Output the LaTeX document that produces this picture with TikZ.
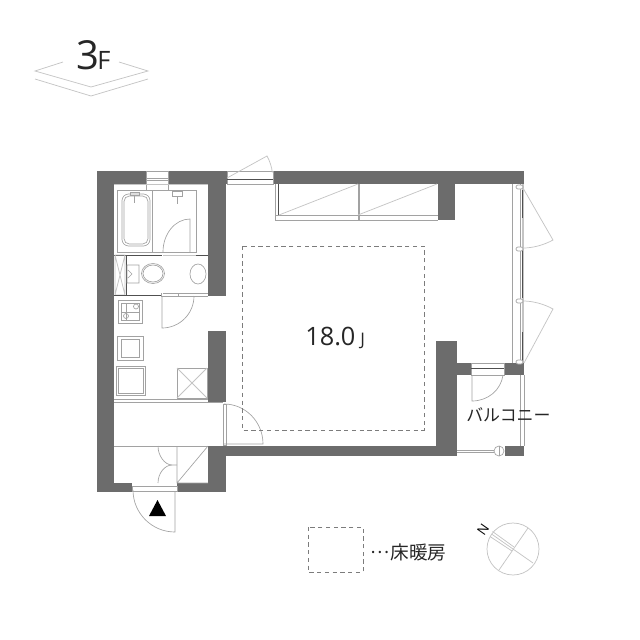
\documentclass[tikz,border=0pt]{standalone}
\usepackage{fontspec}
\setmainfont{Open Sans}
\newfontfamily\cjk{Noto Sans CJK JP}
\tikzset{
  wall/.style={fill=wallgray,draw=none},
  thin line/.style={draw=linegray,line width=0.5pt},
  pale line/.style={draw=palegray,line width=0.55pt},
  dark line/.style={draw=darkline,line width=0.55pt},
  heat/.style={draw=dashgray,line width=0.7pt,dash pattern=on 3.2pt off 2.6pt},
  label/.style={inner sep=0pt,text=black!85}
}
\definecolor{wallgray}{HTML}{6C6C6C}
\definecolor{linegray}{HTML}{A2A2A2}
\definecolor{palegray}{HTML}{C4C4C4}
\definecolor{darkline}{HTML}{505050}
\definecolor{dashgray}{HTML}{7C7C7C}
\begin{document}
\begin{tikzpicture}[x=0.75pt,y=-0.75pt]
\useasboundingbox (0,0) rectangle (640,640);
% walls
\fill[wall] (97,171) rectangle (114,492);
\fill[wall] (97,171) rectangle (146,184);
\fill[wall] (168,171) rectangle (227,184);
\fill[wall] (208,171) rectangle (226,296);
\fill[wall] (273,171) rectangle (524,184);
\fill[wall] (438,171) rectangle (455,220);
\fill[wall] (208,331) rectangle (226,402);
\fill[wall] (208,446) rectangle (226,492);
\fill[wall] (97,483) rectangle (132,492);
\fill[wall] (177,483) rectangle (226,492);
\fill[wall] (226,446) rectangle (457,456);
\fill[wall] (436,341) rectangle (457,456);
\fill[wall] (457,363) rectangle (471,375);
\fill[wall] (504,363) rectangle (524,375);
\fill[wall] (505,446) rectangle (524,456);
% bath window
\draw[thin line] (146,171) rectangle (168,190);
\draw[thin line] (146,178) -- (168,178) (146,180) -- (168,180);
% bathroom
\draw[thin line] (117,190) -- (117,252) -- (196,252) -- (196,190) -- (168,190);
\draw[thin line] (117,190) -- (146,190);
\draw[thin line] (152,190) -- (152,252);
\draw[pale line] (114,184) -- (208,184);
\draw[thin line,rounded corners=5pt] (122,194) rectangle (150,246);
\draw[thin line,rounded corners=4pt] (124,196) rectangle (148,244);
\draw[thin line] (130,192) rectangle (139,195) (134.5,195) -- (134.5,203);
\draw[thin line] (172,191) rectangle (182,196) (177,196) -- (177,204);
\draw[thin line] (190,252) -- (190,219) arc[start angle=270,end angle=180,x radius=27,y radius=33];
\draw[pale line] (163,255) -- (196,255);
\draw[dark line] (114,255) -- (162,255) (196,255) -- (208,255);
% toilet
\draw[dark line] (126,255) -- (126,295);
\draw[pale line] (115,255) rectangle (125,295) (115,255) -- (125,295) (125,255) -- (115,295);
\draw[thin line] (127,265) rectangle (139,283) (128,270) -- (132,274) -- (128,278);
\draw[thin line] (153,273.5) ellipse[x radius=11.5,y radius=10];
\draw[thin line] (153,273.5) ellipse[x radius=10,y radius=8.5];
\draw[thin line] (198,274) ellipse[x radius=8,y radius=10];
\draw[dark line] (114,295) -- (161,295);
\draw[thin line] (161,293) -- (161,296) (161,296) -- (208,296) (163,293) -- (208,293);
\draw[thin line] (162,296) -- (162,328) arc[start angle=90,end angle=0,radius=32];
\draw[thin line] (178,293) -- (178,296);
% kitchen
\draw[thin line] (118,300) rectangle (142,323) (121,303) rectangle (139,320);
\draw[thin line] (126,303) -- (126,320) (121,312) -- (139,312);
\draw[thin line] (126,316) circle[radius=2.5] (136,306.5) circle[radius=2.5];
\draw[thin line] (117,336) rectangle (143,360) (121,339) rectangle (139,357);
\draw[thin line] (116,366) rectangle (145,395) (118,368) rectangle (143,393);
\draw[thin line] (177,368) rectangle (207,398);
\draw[pale line] (177,368) -- (207,398) (207,368) -- (177,398);
% hall
\draw[thin line] (114,399) -- (208,399) (114,402) -- (223,402);
\draw[thin line] (114,446) -- (208,446);
% hall door
\draw[thin line] (223,404) rectangle (226,445);
\draw[thin line] (224,444) -- (263,444) arc[start angle=0,end angle=-90,x radius=39,y radius=40];
% entrance closet
\draw[thin line] (177,446) -- (177,483) -- (208,483) (177,483) -- (208,446);
\draw[thin line] (158,446) .. controls (158,456) and (165,465) .. (172,465) -- (177,465);
\draw[thin line] (158,483) .. controls (158,473) and (165,465) .. (172,465);
% entrance door
\draw[thin line] (132,486) rectangle (177,491);
\draw[thin line] (175,491) -- (175,532) arc[start angle=90,end angle=180,radius=42];
\fill[black] (149,516) -- (166,516) -- (157.5,500) -- cycle;
% top door
\draw[thin line] (227,171) rectangle (273,184);
\draw[dark line] (227,179) -- (273,179);
\draw[pale line] (227,178) -- (267,156) arc[start angle=-29,end angle=-7,radius=45.6];
% closet
\draw[thin line] (275,184) -- (275,220) -- (438,220) (275,215) -- (438,215);
\draw[dark line] (278.5,184) -- (278.5,215);
\draw[thin line] (358,184) -- (358,220) (359,184) -- (359,220);
\draw[pale line] (279,215) -- (358,184) (358,215) -- (437,184);
% sash
\draw[thin line] (512,184) -- (512,363) (520.5,184) -- (520.5,363);
\draw[palegray,line width=1.6pt] (523,184) -- (523,363);
\draw[dark line] (522,190) -- (522,218) (522,250) -- (522,298) (522,332) -- (522,363);
\foreach \yy in {187,249,301,362}{\draw[thin line,rounded corners=1.5pt,fill=white] (516,\yy-2) rectangle (523,\yy+2);}
\draw[pale line] (523,188) -- (553,240) .. controls (544,245) and (533,248) .. (523,248);
\draw[pale line] (523,301) .. controls (533,301) and (544,304) .. (553,309) -- (524,363);
% balcony
\draw[thin line] (471,363) rectangle (504,375);
\draw[dark line] (471,368) -- (504,368);
\draw[thin line] (472,375) -- (472,401) .. controls (488,401) and (501,390) .. (503,375);
\draw[thin line] (520,375) -- (520,446) (524,375) -- (524,446);
\draw[thin line] (457,450) -- (494,450) (457,452.5) -- (494,452.5);
\draw[thin line,fill=white] (499,451) circle[radius=5];
\draw[thin line] (499,446) -- (499,456);
% floor heating
\draw[heat] (242,246) rectangle (424,430);
\draw[heat] (308,527) rectangle (363,572);
% labels
\node[label,anchor=base west,font=\fontsize{30}{30}\selectfont] (floornum) at (76,69) {3};
\node[label,anchor=base west,font=\fontsize{19}{19}\selectfont] (floorlet) at (97,69) {F};
\draw[pale line] (63,62) -- (35,71) -- (91,87) -- (148,71) -- (119,62);
\draw[pale line] (35,79) -- (91,96) -- (148,79);
\node[label,anchor=base west,font=\fontsize{19}{19}\selectfont] (area) at (305,345) {18.0};
\node[label,anchor=base west,font=\fontsize{13}{13}\selectfont] (areaunit) at (360,345) {J};
\node[label,anchor=west,font=\cjk\fontsize{12.7}{13}\selectfont] (balc) at (466,415) {バルコニー};
\node[label,anchor=west,font=\cjk\fontsize{14}{14}\selectfont] (legend) at (370,552) {\raisebox{0.32em}{\fontsize{13.5}{14}\selectfont …}\hspace{1pt}床暖房};
% compass
\coordinate (cc) at (513,549);
\draw[pale line] (cc) circle[radius=26];
\draw[pale line] (528,528) -- (499,570) (cc) -- (533,563);
\draw[pale line] (cc) -- (491.5,534) (512,551) -- (490,536.5) (514,547) -- (492.5,531.5);
\node[inner sep=0pt,rotate=55,font=\fontsize{10}{10}\selectfont,text=black] (north) at (483,530) {N};
\end{tikzpicture}
\end{document}
